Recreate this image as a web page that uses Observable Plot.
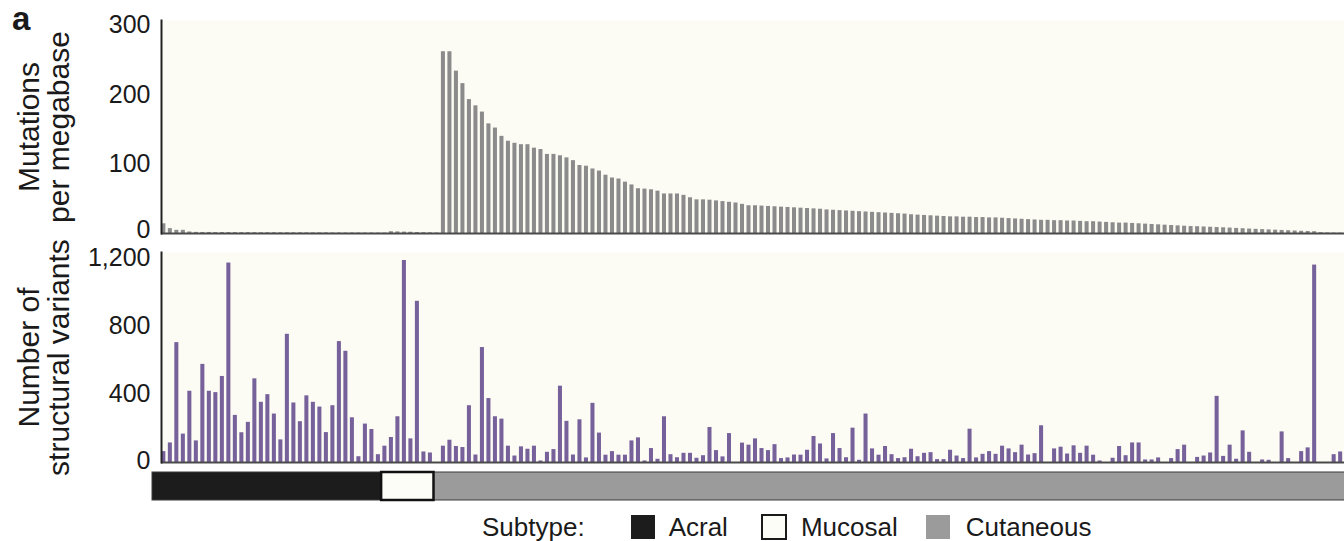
<!DOCTYPE html>
<html>
<head>
<meta charset="utf-8">
<script src="https://cdn.jsdelivr.net/npm/d3@7"></script>
<script src="https://cdn.jsdelivr.net/npm/@observablehq/plot@0.6"></script>
<style>
  html, body { margin: 0; padding: 0; background: #fff; overflow: hidden; }
  #fig { position: relative; width: 1344px; height: 541px; overflow: hidden;
         font-family: "Liberation Sans", Arial, Helvetica, sans-serif; color: #1a1a1a; }
  .panel { position: absolute; left: 0; width: 1352px; }
  .panel-label { position: absolute; left: 12px; top: 0; font-weight: bold; font-size: 33px; }
  #legend { position: absolute; left: 482px; top: 513px; height: 28px; display: flex;
            align-items: center; font-size: 26px; white-space: nowrap; }
  #legend .sw { width: 24px; height: 24px; box-sizing: border-box; flex: none; }
</style>
</head>
<body>
<div id="fig"></div>
<script>
// Subtype groups, in the order the samples are laid out
const subtypes = ["Acral", "Mucosal", "Cutaneous"];
const subtypeColors = ["#1c1c1c", "#fdfdf8", "#9b9b9b"];

// Mutations per megabase, each group sorted high to low
const mutationsAcral = [14, 7, 4.6, 4.6, 2.2, 1.6, 1.5, 1.5, 1.4, 1.4, 1.3, 1.3, 1.2, 1.2, 1.2,
  1.1, 1.1, 1.1, 1, 1, 1, 1, 0.9, 0.9, 0.9, 0.9, 0.8, 0.8, 0.8, 0.8, 0.7, 0.7, 0.7, 0.6, 0.6];
const mutationsMucosal = [2.6, 2.3, 2, 1.8, 1.4, 1.2, 1, 0.8];
const mutationsCutaneous = [262, 262, 234, 216, 193, 184, 175, 158, 152, 140, 133, 130, 128, 128, 123,
  121, 114, 114, 112, 109, 105, 98, 97, 93, 90, 84, 80, 78.5, 74, 70, 64.5, 64, 63, 61, 57,
  57, 57, 55, 51.5, 48.5, 48.5, 48, 47, 46, 45, 44, 42, 40, 40,
  39.5, 39, 38.5, 38, 37.5, 37, 36.5, 36, 35.5, 35, 34, 33.5,
  33, 32.5, 32, 31.5, 31, 30.5, 30,
  29.5, 29, 28.5, 28, 27, 26.5,
  26, 25.5, 25, 24.5, 24,
  24, 23.5, 23.5, 23, 23, 22.5, 22.5,
  22, 21.5, 21, 20.5, 20, 19.5,
  19, 19, 18.5, 18.5, 18, 18, 17.5, 17, 17,
  16.5, 16, 15.5, 15, 15, 14.5, 14, 13.5, 13,
  12.5, 12, 11.5, 11, 10.5, 10, 9.8, 9.4,
  9, 8.6, 8.2, 7.8, 7.3, 6.9, 6.4, 6,
  5.6, 5.2, 4.8, 4.4, 4, 3.6, 3.2, 2.9, 2.6,
  1.2, 0.8, 0.6, 0.5, 0.4];

// Number of structural variants, same sample order
const svAcral = [64, 115, 705, 167, 419, 127, 577, 419, 411, 506, 1173, 277, 175, 236, 492, 354, 399,
  285, 133, 754, 350, 240, 392, 354, 326, 176, 334, 711, 654, 263, 34, 226, 194, 46, 96];
const svMucosal = [147, 269, 1188, 139, 948, 62, 56, 0];
const svCutaneous = [96, 131, 94, 88, 334, 44, 676, 376, 269, 255, 96, 38, 92, 78, 96, 9, 60, 76,
  449, 242, 44, 251, 27, 348, 173, 43, 64, 43, 43, 127, 145, 9, 82, 19, 269, 46, 28, 54, 54, 25,
  40, 206, 70, 33, 170, 0, 114, 102, 139, 82, 70, 105, 23, 27, 44, 43, 72, 153, 109, 21, 170, 82,
  28, 202, 13, 285, 80, 43, 94, 46, 23, 28, 78, 34, 54, 58, 17, 17, 72, 38, 23, 196, 27, 48, 64,
  48, 96, 80, 58, 102, 44, 52, 216, 0, 80, 90, 50, 98, 54, 96, 43, 9, 0, 25, 94, 40, 115, 115,
  15, 15, 27, 0, 23, 76, 102, 0, 30, 38, 56, 389, 36, 102, 19, 186, 60, 0, 15, 13, 0, 180, 23,
  0, 64, 86, 1161, 0, 0, 46, 62, 40];

// Axis ticks and titles
const mutationTicks = [0, 100, 200, 300];
const svTicks = [0, 400, 800, 1200];
const mutationTitle = "Mutations\nper megabase";
const svTitle = "Number of\nstructural variants";
const legendTitle = "Subtype:";

// One row per sample
const groups = [
  {subtype: "Acral", mutations: mutationsAcral, sv: svAcral},
  {subtype: "Mucosal", mutations: mutationsMucosal, sv: svMucosal},
  {subtype: "Cutaneous", mutations: mutationsCutaneous, sv: svCutaneous}
];
const samples = [];
for (const g of groups) {
  g.mutations.forEach((m, k) => samples.push({i: samples.length, subtype: g.subtype, mutations: m, sv: g.sv[k]}));
}
const N = samples.length;

// Contiguous runs of each subtype for the annotation strip
const runs = [];
for (const s of samples) {
  const last = runs[runs.length - 1];
  if (last && last.subtype === s.subtype) last.end = s.i + 1;
  else runs.push({subtype: s.subtype, start: s.i, end: s.i + 1});
}

const FONT = '"Liberation Sans", Arial, Helvetica, sans-serif';
const CREAM = "#fcfcf4";
const W = 1352;
const baseStyle = {fontFamily: FONT, fontSize: "25px", color: "#1a1a1a", background: "transparent", maxWidth: "none", overflow: "visible"};
const xBand = {type: "band", domain: d3.range(N), paddingInner: 0.38, paddingOuter: 0.05, axis: null};

function barPanel({key, fill, domain, ticks, title, height, marginTop, marginBottom, zeroShift}) {
  return Plot.plot({
    width: W, height, marginLeft: 161, marginRight: 3, marginTop, marginBottom,
    style: baseStyle,
    x: xBand,
    y: {domain, axis: null},
    marks: [
      Plot.frame({fill: CREAM, stroke: null}),
      Plot.barY(samples, {x: "i", y: key, fill}),
      Plot.ruleY([0], {stroke: "#4a4a4a", strokeWidth: 1.8}),
      Plot.frame({anchor: "left", stroke: "#222", strokeWidth: 2}),
      // the zero label sits a little higher than its tick position
      Plot.axisY({ticks: ticks.filter(t => t !== 0), tickSize: 0, tickPadding: 11, label: null, fontSize: 25, tickFormat: d3.format(",")}),
      Plot.axisY({ticks: [0], tickSize: 0, tickPadding: 11, label: null, fontSize: 25, dy: zeroShift}),
      Plot.text([title], {text: d => d, frameAnchor: "left", textAnchor: "middle", rotate: -90, fontSize: 30, lineHeight: 1.0, dx: -117, fill: "#1a1a1a"})
    ]
  });
}

const mutationPanel = barPanel({key: "mutations", fill: "#8b8b8b", domain: [0, 307], ticks: mutationTicks,
  title: mutationTitle, height: 250, marginTop: 20, marginBottom: 17, zeroShift: -4});
const svPanel = barPanel({key: "sv", fill: "#76619a", domain: [0, 1235], ticks: svTicks,
  title: svTitle, height: 240, marginTop: 12, marginBottom: 18, zeroShift: -2});

const strip = Plot.plot({
  width: W, height: 40, marginLeft: 152, marginRight: 2, marginTop: 6, marginBottom: 6,
  style: baseStyle,
  x: {domain: [0, N], axis: null},
  color: {domain: subtypes, range: subtypeColors},
  marks: [
    Plot.rect(runs, {x1: "start", x2: "end", fill: "subtype", stroke: "#3a3a3a", strokeWidth: 1}),
    Plot.rect(runs.filter(r => r.subtype === "Mucosal"), {x1: "start", x2: "end", fill: "none", stroke: "#111", strokeWidth: 2.5})
  ]
});

const fig = document.getElementById("fig");
function place(node, y) {
  const d = document.createElement("div");
  d.className = "panel";
  d.style.top = y + "px";
  d.appendChild(node);
  fig.appendChild(d);
}
place(mutationPanel, 0);
place(svPanel, 240);
place(strip, 466);

const panelLabel = document.createElement("div");
panelLabel.className = "panel-label";
panelLabel.textContent = "a";
fig.appendChild(panelLabel);

// Subtype legend
const legend = document.createElement("div");
legend.id = "legend";
const gaps = [46, 33, 28];
const textGap = [14, 14, 16];
const legendHead = document.createElement("span");
legendHead.textContent = legendTitle;
legend.appendChild(legendHead);
subtypes.forEach((s, k) => {
  const sw = document.createElement("span");
  sw.className = "sw";
  sw.style.marginLeft = gaps[k] + "px";
  sw.style.background = subtypeColors[k];
  if (s === "Mucosal") { sw.style.border = "2px solid #1a1a1a"; sw.style.width = "26px"; sw.style.height = "26px"; }
  legend.appendChild(sw);
  const tx = document.createElement("span");
  tx.textContent = s;
  tx.style.marginLeft = textGap[k] + "px";
  legend.appendChild(tx);
});
fig.appendChild(legend);
</script>
</body>
</html>
